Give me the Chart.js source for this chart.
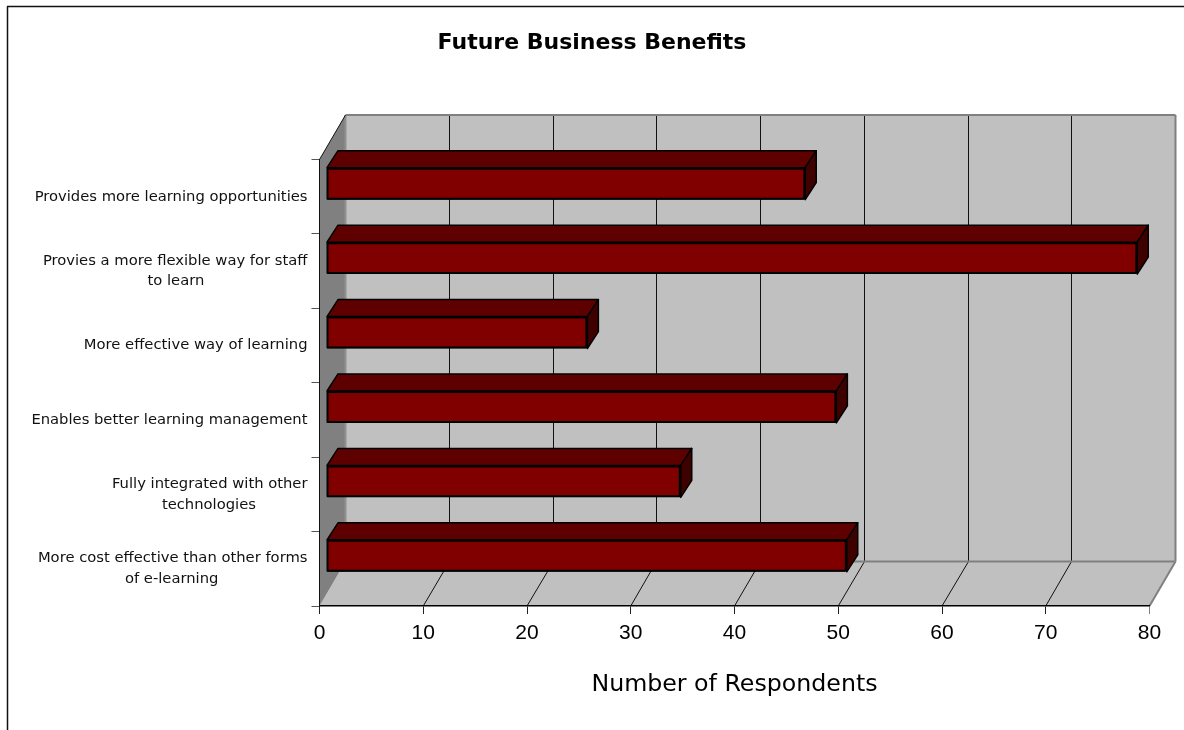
<!DOCTYPE html>
<html>
<head>
<meta charset="utf-8">
<style>html,body{margin:0;padding:0;background:#fff}canvas{display:block}#w{width:1184px;height:730px;position:relative}</style>
<script src="https://cdn.jsdelivr.net/npm/chart.js@4"></script>
</head>
<body>
<div id="w"><canvas id="c" width="1184" height="730"></canvas></div>
<script>
const categories = [
  "Provides more learning opportunities",
  ["Provies a more flexible way for staff", "to learn"],
  "More effective way of learning",
  "Enables better learning management",
  ["Fully integrated with other", "technologies"],
  ["More cost effective than other forms", "of e-learning"]
];
const respondents = [46, 78, 25, 49, 34, 50];
const chartTitle = "Future Business Benefits";
const xAxisTitle = "Number of Respondents";

const WALL = {dx: 26, dy: -44.5};
const BAR = {dx: 7, dy: -13, ddx: 11, ddy: -17, endPad: 1.5};
const LABEL_FONT = '14.75px "DejaVu Sans"';

function poly(ctx, pts, fill, stroke, lw) {
  ctx.beginPath();
  pts.forEach((p, i) => i ? ctx.lineTo(p[0], p[1]) : ctx.moveTo(p[0], p[1]));
  ctx.closePath();
  if (fill) { ctx.fillStyle = fill; ctx.fill(); }
  if (stroke) { ctx.strokeStyle = stroke; ctx.lineWidth = lw || 1; ctx.lineJoin = 'round'; ctx.stroke(); }
}
function line(ctx, a, b, color, lw) {
  ctx.beginPath(); ctx.moveTo(a[0], a[1]); ctx.lineTo(b[0], b[1]);
  ctx.strokeStyle = color; ctx.lineWidth = lw || 1; ctx.stroke();
}

// The reference right-anchors each label block and centres its lines inside it.
const measure = document.createElement('canvas').getContext('2d');
function centreLines(lines) {
  measure.font = LABEL_FONT;
  const first = measure.measureText(lines[0]).width;
  const space = measure.measureText('\u00A0').width;
  return lines.map((t, i) => {
    if (!i) return t;
    const n = Math.round((first - measure.measureText(t).width) / 2 / space);
    return t + '\u00A0'.repeat(Math.max(n, 0));
  });
}

const box3d = {
  id: 'box3d',
  beforeDraw(chart) {
    const ctx = chart.ctx, a = chart.chartArea, x = chart.scales.x;
    const {dx, dy} = WALL;
    ctx.save();
    line(ctx, [7.5, 730], [7.5, 6.5], '#111', 1.5);
    line(ctx, [7, 6.5], [1184, 6.5], '#111', 1.5);
    poly(ctx, [[a.left+dx, a.top+dy], [a.right+dx, a.top+dy], [a.right+dx, a.bottom+dy], [a.left+dx, a.bottom+dy]], '#c0c0c0');
    poly(ctx, [[a.left, a.bottom], [a.right, a.bottom], [a.right+dx, a.bottom+dy], [a.left+dx, a.bottom+dy]], '#c0c0c0');
    poly(ctx, [[a.left, a.top], [a.left+dx, a.top+dy], [a.left+dx, a.bottom+dy], [a.left, a.bottom]], '#808080');
    x.ticks.forEach(t => {
      if (t.value <= 0 || t.value >= 80) return;
      const px = x.getPixelForValue(t.value);
      const back = Math.round(px + dx - 0.5) + 0.5;
      line(ctx, [back, a.top+dy], [back, a.bottom+dy], '#111', 1);
      line(ctx, [px, a.bottom], [back, a.bottom+dy], '#111', 1);
    });
    line(ctx, [a.left+dx, a.top+dy], [a.right+dx, a.top+dy], '#808080', 2);
    line(ctx, [a.right+dx, a.top+dy], [a.right+dx, a.bottom+dy], '#808080', 2);
    line(ctx, [a.left+dx, a.bottom+dy], [a.right+dx, a.bottom+dy], '#808080', 2);
    line(ctx, [a.right, a.bottom], [a.right+dx, a.bottom+dy], '#808080', 2);
    line(ctx, [a.left+dx, a.top+dy], [a.left+dx, a.bottom+dy], '#909090', 2);
    line(ctx, [a.left, a.top], [a.left+dx, a.top+dy], '#111', 1);
    ctx.restore();
  },
  beforeDatasetsDraw(chart) {
    const ctx = chart.ctx;
    ctx.save();
    ctx.translate(BAR.dx, BAR.dy);
    chart.getDatasetMeta(0).data.forEach(b => {
      const h = b.height / 2, l = b.base, r = b.x + BAR.endPad, t = b.y - h, bt = b.y + h;
      const {ddx, ddy} = BAR;
      poly(ctx, [[l, t], [l+ddx, t+ddy], [r+ddx, t+ddy], [r, t]], '#5f0000', '#000', 1.5);
      poly(ctx, [[r, t], [r+ddx, t+ddy], [r+ddx, bt+ddy], [r, bt]], '#3f0000', '#000', 1.5);
    });
  },
  afterDatasetsDraw(chart) {
    const ctx = chart.ctx;
    chart.getDatasetMeta(0).data.forEach(b => {
      const h = b.height / 2, l = b.base, r = b.x + BAR.endPad, t = b.y - h, bt = b.y + h;
      poly(ctx, [[l+0.5, t+1], [r-1, t+1], [r-1, bt-1], [l+0.5, bt-1]], '#800000', '#000', 2);
    });
    ctx.restore();
  }
};

new Chart(document.getElementById('c'), {
  type: 'bar',
  plugins: [box3d],
  data: {
    labels: categories,
    datasets: [{
      data: respondents,
      backgroundColor: '#800000',
      borderColor: '#000000',
      borderWidth: 2,
      borderSkipped: false,
      barPercentage: 0.43,
      categoryPercentage: 1,
      clip: false
    }]
  },
  options: {
    indexAxis: 'y',
    responsive: false,
    animation: false,
    layout: {padding: {left: 34.5, right: 34.5, top: 0, bottom: 0}},
    plugins: {
      legend: {display: false},
      tooltip: {enabled: false},
      title: {
        display: true,
        text: chartTitle,
        color: '#000',
        font: {family: '"DejaVu Sans"', size: 22, weight: 'bold', lineHeight: 1.2},
        padding: {top: 30.5, bottom: 102.6}
      }
    },
    scales: {
      x: {
        min: 0, max: 80,
        afterFit(s) { s.height = 124; },
        ticks: {stepSize: 10, color: '#000', font: {family: '"Liberation Sans"', size: 21}, padding: 7, maxRotation: 0},
        grid: {drawOnChartArea: false, drawTicks: true, tickLength: 8,
               color: ctx => (ctx.tick && ctx.tick.value === 80 ? '#808080' : '#222')},
        border: {display: true, color: '#000', width: 1.5},
        title: {display: true, text: xAxisTitle, color: '#000',
          font: {family: '"DejaVu Sans"', size: 23.7}, padding: {top: 0, bottom: 31}}
      },
      y: {
        beforeUpdate(s) { s._computeLabelArea = () => null; },
        afterFit(s) { s.width = 285; },
        ticks: {
          color: '#111',
          font: {family: '"DejaVu Sans"', size: 14.75, lineHeight: 1.4},
          padding: 4, autoSkip: false, maxRotation: 0,
          callback(value) {
            const label = this.getLabelForValue(value);
            return Array.isArray(label) ? centreLines(label) : label;
          }
        },
        grid: {drawOnChartArea: false, drawTicks: true, tickLength: 8, color: '#555'},
        border: {display: true, color: '#111', width: 1}
      }
    }
  }
});
</script>
</body>
</html>
